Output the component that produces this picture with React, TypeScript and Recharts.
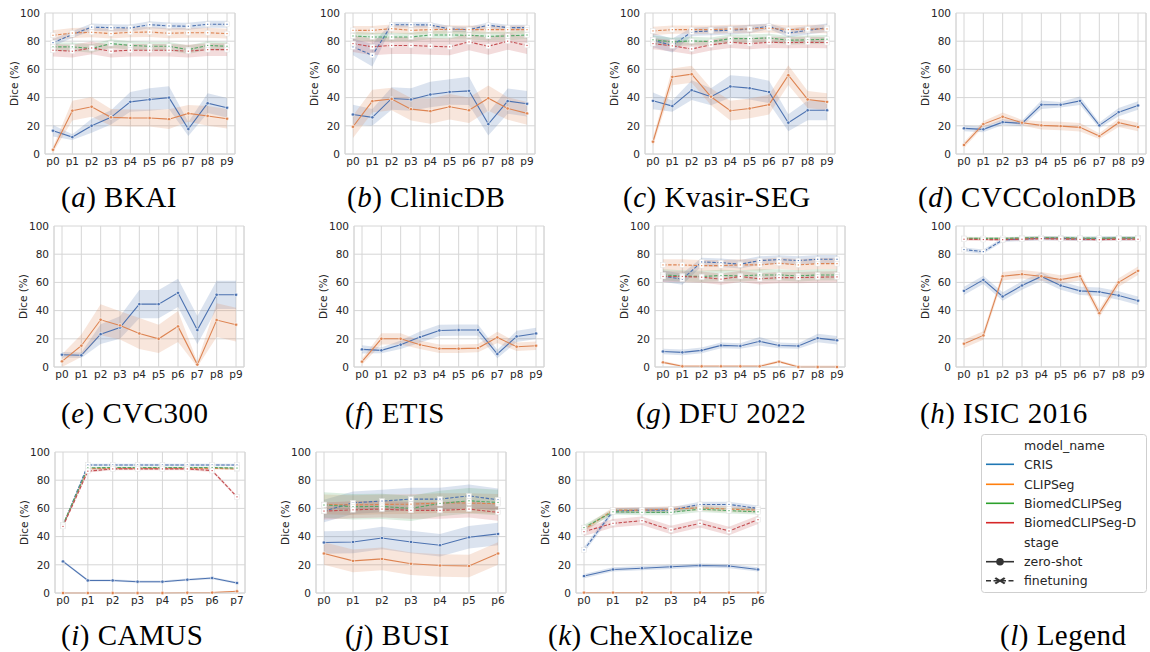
import React from 'react'
import { ComposedChart, Line, Area, XAxis, YAxis, CartesianGrid } from 'recharts'

// x categories
const P10 = ['p0', 'p1', 'p2', 'p3', 'p4', 'p5', 'p6', 'p7', 'p8', 'p9']
const P8 = ['p0', 'p1', 'p2', 'p3', 'p4', 'p5', 'p6', 'p7']
const P7 = ['p0', 'p1', 'p2', 'p3', 'p4', 'p5', 'p6']
const Y_TICKS = [0, 20, 40, 60, 80, 100]

const MODELS = ['CRIS', 'CLIPSeg', 'BiomedCLIPSeg', 'BiomedCLIPSeg-D']
const PLOT_COLORS = ['#4C72B0', '#DD8452', '#55A868', '#C44E52']
const LEGEND_COLORS = ['#1f77b4', '#ff7f0e', '#2ca02c', '#d62728']

// (a) BKAI
const BKAI_CRIS_ZS = [16.5, 12, 20, 26, 37, 38.7, 40, 17.7, 36, 32.8]
const BKAI_CRIS_ZS_CI = [4, 2, 5, 5, 7, 8, 8, 5, 7, 7]
const BKAI_CLIP_ZS = [3, 30.7, 33.5, 26, 25.5, 25.5, 24.7, 28.8, 27, 25]
const BKAI_CLIP_ZS_CI = [2, 7, 7, 6, 6, 6, 7, 6, 7, 7]
const BKAI_CRIS_FT = [79, 84.7, 90, 89.6, 89.4, 91.7, 90.8, 90.6, 92, 92]
const BKAI_CLIP_FT = [84.2, 85.8, 86.3, 85.4, 86.3, 86.5, 85.6, 86, 86, 85.4]
const BKAI_BIO_FT = [76, 76, 74.8, 78.3, 77, 76.4, 76.4, 74, 77, 76.4]
const BKAI_BIOD_FT = [73.6, 72.9, 75.2, 72.9, 73.6, 73.6, 73.6, 72.9, 74, 74]

// (b) ClinicDB
const CLIN_CRIS_ZS = [28, 26, 39.4, 38.7, 42.2, 44, 44.8, 21.2, 37.5, 35.6]
const CLIN_CRIS_ZS_CI = [7, 6, 8, 8, 9, 9, 10, 8, 9, 9]
const CLIN_CLIP_ZS = [19.3, 37.5, 39, 31.8, 30.4, 33.5, 31, 39.6, 32.3, 28.8]
const CLIN_CLIP_ZS_CI = [8, 8, 8, 8, 9, 9, 9, 9, 8, 8]
const CLIN_CRIS_FT = [76, 70, 91.7, 91.7, 91.5, 88.7, 88.2, 91.3, 89.6, 89.6]
const CLIN_CRIS_FT_CI = [6, 8, 2, 2, 2, 2, 2, 2, 2, 2]
const CLIN_CLIP_FT = [87.7, 87.7, 88.9, 87.7, 88.2, 88.4, 88.2, 88.2, 88.2, 88.2]
const CLIN_BIO_FT = [83.7, 83, 83, 83, 84.4, 84.4, 84.2, 83.5, 83.7, 84.4]
const CLIN_BIOD_FT = [78.3, 76, 77, 77, 76.4, 76, 79.5, 76.4, 80, 77]

// (c) Kvasir-SEG
const KVA_CRIS_ZS = [37.7, 34, 45.3, 40.6, 47.9, 46.7, 44, 22.2, 31, 31]
const KVA_CRIS_ZS_CI = [6, 4, 7, 6, 8, 8, 8, 6, 7, 7]
const KVA_CLIP_ZS = [8.7, 54.7, 56.6, 40.6, 30.7, 32.3, 35, 55.9, 38.7, 37]
const KVA_CLIP_ZS_CI = [3, 6, 6, 6, 7, 7, 7, 7, 6, 6]
const KVA_CRIS_FT = [80.7, 77, 86.6, 87.3, 87.7, 88.7, 90.6, 85.8, 87.7, 89.6]
const KVA_CRIS_FT_CI = [5, 5, 3, 3, 3, 3, 2, 3, 3, 3]
const KVA_CLIP_FT = [87.3, 88.2, 88.2, 88.2, 88.7, 88.7, 89.2, 88.2, 88.7, 88.7]
const KVA_BIO_FT = [81, 79.5, 80.2, 79.7, 81.8, 81.8, 82.3, 80.7, 81, 81.4]
const KVA_BIOD_FT = [78.3, 76.7, 74.5, 77.4, 79.2, 78.3, 79.2, 79, 79.2, 79]

// (d) CVCColonDB
const COL_CRIS_ZS = [18.2, 17.5, 22.6, 21.7, 34.9, 34.9, 37.7, 20.3, 29.7, 34.4]
const COL_CRIS_ZS_CI = [2, 2, 2, 2, 3, 2, 3, 2, 3, 3]
const COL_CLIP_ZS = [6.4, 21.2, 26.4, 22.2, 20.3, 19.8, 18.9, 12.7, 22.2, 19.1]
const COL_CLIP_ZS_CI = [2, 2, 3, 2, 3, 3, 3, 2, 3, 3]

// (e) CVC300
const C300_CRIS_ZS = [8.7, 8.3, 23.3, 28, 44.6, 44.6, 52.6, 26.2, 51.2, 51.2]
const C300_CRIS_ZS_CI = [2, 2, 7, 8, 10, 10, 10, 10, 10, 10]
const C300_CLIP_ZS = [4, 15.1, 33.5, 29.5, 23.8, 20, 28.8, 1.7, 33.3, 30]
const C300_CLIP_ZS_CI = [5, 8, 11, 10, 11, 10, 11, 2, 12, 12]

// (f) ETIS
const ETIS_CRIS_ZS = [12.5, 11.8, 15.8, 21.2, 25.9, 26.2, 26.2, 9.2, 21.7, 23.8]
const ETIS_CRIS_ZS_CI = [3, 2, 3, 4, 4, 4, 4, 3, 4, 4]
const ETIS_CLIP_ZS = [3.8, 20, 20, 15.8, 13, 13, 13.4, 21, 14.4, 15.1]
const ETIS_CLIP_ZS_CI = [2, 4, 4, 3, 3, 3, 3, 4, 3, 3]

// (g) DFU 2022
const DFU_CRIS_ZS = [11, 10.4, 11.8, 15.3, 14.9, 18.2, 15.3, 14.9, 20.5, 18.9]
const DFU_CRIS_ZS_CI = [2, 2, 2, 2, 2, 3, 2, 2, 3, 3]
const DFU_CLIP_ZS = [3.3, 0.5, 0.5, 0.5, 0.5, 0.5, 3.8, 0, 0, 0]
const DFU_CRIS_FT = [64.4, 62.3, 74.5, 74, 72.9, 75.5, 76.2, 75.5, 76.4, 76.4]
const DFU_CRIS_FT_CI = [4, 4, 3, 3, 3, 3, 3, 3, 3, 3]
const DFU_CLIP_FT = [72.4, 72.4, 71.9, 71.9, 72.4, 72.4, 73.6, 72.4, 73.3, 73.3]
const DFU_BIO_FT = [65.3, 64.6, 64.2, 64.9, 64.6, 65.3, 65.3, 64.6, 65.3, 65.3]
const DFU_BIOD_FT = [64.2, 64.2, 63.7, 62.3, 64.2, 62.5, 63.4, 63.4, 63.7, 63.9]

// (h) ISIC 2016
const ISIC_CRIS_ZS = [54, 61.8, 50, 57.8, 64.2, 57.8, 54, 53.3, 50.7, 47]
const ISIC_CLIP_ZS = [16.5, 22.4, 64.4, 65.8, 64.4, 62, 64.4, 38.2, 60, 68.2]
const ISIC_CRIS_FT = [83.3, 81.8, 90.1, 90.8, 91.3, 91.3, 90.8, 91.3, 91.3, 91.3]
const ISIC_CLIP_FT = [91, 91, 91, 91.2, 91.5, 91.3, 91, 91, 91.3, 91.3]
const ISIC_BIO_FT = [91.3, 91.2, 91.2, 91.5, 91.8, 91.6, 91.5, 91.3, 91.6, 91.6]
const ISIC_BIOD_FT = [90.6, 90.4, 90.3, 90.6, 91, 90.8, 90.5, 90.3, 90.6, 90.6]

// (i) CAMUS
const CAM_CRIS_ZS = [22.4, 8.9, 8.9, 8, 8, 9.4, 10.6, 7.1]
const CAM_CLIP_ZS = [0, 0, 0, 0, 0, 0.2, 0.3, 1.2]
const CAM_CRIS_FT = [47.8, 90.8, 90.8, 90.8, 90.8, 90.8, 90.8, 90.8]
const CAM_CLIP_FT = [48, 88.2, 88.4, 88.4, 88.4, 88.4, 88.4, 88]
const CAM_BIO_FT = [48.3, 88.8, 89, 89, 89, 89, 89, 88.6]
const CAM_BIOD_FT = [47.2, 86.4, 88, 88, 88, 88, 86.8, 68.2]

// (j) BUSI
const BUSI_CRIS_ZS = [35.8, 36.2, 39, 36.2, 33.9, 39.5, 41.9]
const BUSI_CLIP_ZS = [28, 22.8, 24.2, 20.7, 19.5, 19.1, 28]
const BUSI_CRIS_FT = [58.1, 64, 65.2, 66.6, 66.6, 68.9, 66.1]
const BUSI_CLIP_FT = [62.8, 62.4, 62.8, 63, 63.8, 63.8, 63.3]
const BUSI_BIO_FT = [62.4, 61.2, 61.4, 60, 63.5, 65.4, 64.2]
const BUSI_BIOD_FT = [58.1, 59, 59.5, 58.6, 58.6, 59.5, 57.2]

// (k) CheXlocalize
const CHEX_CRIS_ZS = [12, 16.7, 17.6, 18.6, 19.5, 19.1, 16.7]
const CHEX_CLIP_ZS = [0.3, 0.3, 0.3, 0.3, 0.3, 0.3, 0.3]
const CHEX_CRIS_FT = [30.6, 58.1, 58.8, 58.8, 62.8, 62.8, 60]
const CHEX_CLIP_FT = [45, 58.8, 58.8, 59.5, 60.4, 59.5, 58.8]
const CHEX_BIO_FT = [46.4, 57.6, 57.2, 57.2, 59.5, 58.4, 57.6]
const CHEX_BIOD_FT = [43.5, 49.4, 51.3, 44.7, 49.4, 44, 52]

type Series = { model: number; ft: boolean; mean: number[]; ci: number | number[] }

const zs = (model: number, mean: number[], ci: number | number[]): Series => ({ model, ft: false, mean, ci })
const ft = (model: number, mean: number[], ci: number | number[]): Series => ({ model, ft: true, mean, ci })

const PANELS = [
  { id: 'a', name: 'BKAI', x: 45, y: 13, cats: P10, cap: [61, 197], series: [
    zs(0, BKAI_CRIS_ZS, BKAI_CRIS_ZS_CI), zs(1, BKAI_CLIP_ZS, BKAI_CLIP_ZS_CI),
    ft(0, BKAI_CRIS_FT, 2.5), ft(1, BKAI_CLIP_FT, 3.5), ft(2, BKAI_BIO_FT, 3), ft(3, BKAI_BIOD_FT, 4.5)] },
  { id: 'b', name: 'ClinicDB', x: 345, y: 13, cats: P10, cap: [347, 197], series: [
    zs(0, CLIN_CRIS_ZS, CLIN_CRIS_ZS_CI), zs(1, CLIN_CLIP_ZS, CLIN_CLIP_ZS_CI),
    ft(0, CLIN_CRIS_FT, CLIN_CRIS_FT_CI), ft(1, CLIN_CLIP_FT, 3), ft(2, CLIN_BIO_FT, 3), ft(3, CLIN_BIOD_FT, 6)] },
  { id: 'c', name: 'Kvasir-SEG', x: 645, y: 13, cats: P10, cap: [623, 197], series: [
    zs(0, KVA_CRIS_ZS, KVA_CRIS_ZS_CI), zs(1, KVA_CLIP_ZS, KVA_CLIP_ZS_CI),
    ft(0, KVA_CRIS_FT, KVA_CRIS_FT_CI), ft(1, KVA_CLIP_FT, 3), ft(2, KVA_BIO_FT, 3), ft(3, KVA_BIOD_FT, 4)] },
  { id: 'd', name: 'CVCColonDB', x: 956, y: 13, cats: P10, cap: [918, 197], series: [
    zs(0, COL_CRIS_ZS, COL_CRIS_ZS_CI), zs(1, COL_CLIP_ZS, COL_CLIP_ZS_CI)] },
  { id: 'e', name: 'CVC300', x: 54, y: 226, cats: P10, cap: [61, 413], series: [
    zs(0, C300_CRIS_ZS, C300_CRIS_ZS_CI), zs(1, C300_CLIP_ZS, C300_CLIP_ZS_CI)] },
  { id: 'f', name: 'ETIS', x: 354, y: 226, cats: P10, cap: [345, 413], series: [
    zs(0, ETIS_CRIS_ZS, ETIS_CRIS_ZS_CI), zs(1, ETIS_CLIP_ZS, ETIS_CLIP_ZS_CI)] },
  { id: 'g', name: 'DFU 2022', x: 655, y: 226, cats: P10, cap: [636, 413], series: [
    zs(0, DFU_CRIS_ZS, DFU_CRIS_ZS_CI), zs(1, DFU_CLIP_ZS, 1),
    ft(0, DFU_CRIS_FT, DFU_CRIS_FT_CI), ft(1, DFU_CLIP_FT, 4), ft(2, DFU_BIO_FT, 4), ft(3, DFU_BIOD_FT, 4)] },
  { id: 'h', name: 'ISIC 2016', x: 956, y: 226, cats: P10, cap: [920, 413], series: [
    zs(0, ISIC_CRIS_ZS, 3), zs(1, ISIC_CLIP_ZS, 3),
    ft(0, ISIC_CRIS_FT, 1.5), ft(1, ISIC_CLIP_FT, 1), ft(2, ISIC_BIO_FT, 1), ft(3, ISIC_BIOD_FT, 1)] },
  { id: 'i', name: 'CAMUS', x: 55, y: 452, cats: P8, cap: [61, 635], series: [
    zs(0, CAM_CRIS_ZS, 0.8), zs(1, CAM_CLIP_ZS, 0.4),
    ft(0, CAM_CRIS_FT, 0.8), ft(1, CAM_CLIP_FT, 0.8), ft(2, CAM_BIO_FT, 0.8), ft(3, CAM_BIOD_FT, 1)] },
  { id: 'j', name: 'BUSI', x: 316, y: 452, cats: P7, cap: [345, 635], series: [
    zs(0, BUSI_CRIS_ZS, 8), zs(1, BUSI_CLIP_ZS, 8),
    ft(0, BUSI_CRIS_FT, 8), ft(1, BUSI_CLIP_FT, 7), ft(2, BUSI_BIO_FT, 9), ft(3, BUSI_BIOD_FT, 6)] },
  { id: 'k', name: 'CheXlocalize', x: 576, y: 452, cats: P7, cap: [548, 635], series: [
    zs(0, CHEX_CRIS_ZS, 1.5), zs(1, CHEX_CLIP_ZS, 0.3),
    ft(0, CHEX_CRIS_FT, 2), ft(1, CHEX_CLIP_FT, 2), ft(2, CHEX_BIO_FT, 2), ft(3, CHEX_BIOD_FT, 3)] },
]

const PW = 190
const PH = 141
const YW = 62
const TOP = 8
const XH = 22
const GRID = '#d6d6d6'
const TICK = { fontSize: 10.5, fill: '#262626' }

function buildRows(cats: string[], series: Series[]) {
  return cats.map((c, i) => {
    const row: any = { cat: c }
    series.forEach((s, k) => {
      const m = s.mean[i]
      const h = Array.isArray(s.ci) ? s.ci[i] : s.ci
      row['m' + k] = m
      row['b' + k] = [Math.max(0, m - h), Math.min(100, m + h)]
    })
    return row
  })
}

const zsDot = (color: string) => (p: any) => (
  <circle key={'d' + p.index} cx={p.cx} cy={p.cy} r={1.7} fill={color} stroke="#fff" strokeWidth={0.6} />
)
const ftDot = (color: string) => (p: any) => (
  <g key={'d' + p.index}>
    <rect x={p.cx - 2.4} y={p.cy - 2.4} width={4.8} height={4.8} fill="#fff" stroke="#e4e4e4" strokeWidth={0.5} />
    <rect x={p.cx - 0.6} y={p.cy - 0.6} width={1.2} height={1.2} fill={color} />
  </g>
)

function Panel({ panel }: { panel: any }) {
  const rows = buildRows(panel.cats, panel.series)
  return (
    <div style={{ position: 'absolute', left: panel.x - YW, top: panel.y - TOP }}>
      <ComposedChart
        width={YW + PW + 2}
        height={TOP + PH + XH}
        data={rows}
        margin={{ top: TOP, right: 1, bottom: 0, left: 0 }}
      >
        <CartesianGrid stroke={GRID} strokeWidth={1} />
        <XAxis
          dataKey="cat"
          scale="point"
          padding={{ left: 8, right: 8 }}
          interval={0}
          tickLine={false}
          tickSize={0}
          tickMargin={4}
          axisLine={{ stroke: GRID }}
          height={XH}
          tick={TICK}
        />
        <YAxis
          domain={[0, 100]}
          ticks={Y_TICKS}
          width={YW}
          tickLine={false}
          tickSize={0}
          tickMargin={5}
          axisLine={{ stroke: GRID }}
          tick={TICK}
          label={{ value: 'Dice (%)', angle: -90, position: 'center', fontSize: 10.5, fill: '#262626' }}
        />
        <YAxis yAxisId="r" orientation="right" width={1} domain={[0, 100]} tick={false} tickLine={false} axisLine={{ stroke: GRID }} />
        {panel.series.map((s: Series, k: number) => (
          <Area
            key={'b' + k}
            type="linear"
            dataKey={'b' + k}
            stroke="none"
            fill={PLOT_COLORS[s.model]}
            fillOpacity={0.2}
            dot={false}
            activeDot={false}
            isAnimationActive={false}
          />
        ))}
        {panel.series.map((s: Series, k: number) => (
          <Line
            key={'m' + k}
            type="linear"
            dataKey={'m' + k}
            stroke={PLOT_COLORS[s.model]}
            strokeWidth={1.1}
            strokeDasharray={s.ft ? '3.5 1.6' : undefined}
            dot={s.ft ? ftDot(PLOT_COLORS[s.model]) : zsDot(PLOT_COLORS[s.model])}
            activeDot={false}
            isAnimationActive={false}
          />
        ))}
      </ComposedChart>
    </div>
  )
}

function Caption({ id, name, x, y }: { id: string; name: string; x: number; y: number }) {
  return (
    <div
      style={{
        position: 'absolute', left: x, top: y - 17, lineHeight: '34px', fontSize: 29, letterSpacing: 0.5,
        fontFamily: '"Liberation Serif", serif', color: '#000', whiteSpace: 'nowrap',
      }}
    >
      (<i>{id}</i>) {name}
    </div>
  )
}

function Legend() {
  const rowY = [11.7, 30.3, 50.3, 69.3, 88.7, 108.7, 127.7, 146.7]
  const txt = { fontSize: 12.5, fill: '#262626' } as any
  return (
    <svg style={{ position: 'absolute', left: 981, top: 434 }} width={167} height={160}>
      <rect x={0.5} y={0.5} width={165} height={158} rx={3} fill="#fff" stroke="#cfcfcf" />
      <text x={43} y={rowY[0]} dy="0.35em" {...txt}>model_name</text>
      {MODELS.map((m, i) => (
        <g key={m}>
          <line x1={5} x2={33} y1={rowY[i + 1]} y2={rowY[i + 1]} stroke={LEGEND_COLORS[i]} strokeWidth={1.6} />
          <text x={43} y={rowY[i + 1]} dy="0.35em" {...txt}>{m}</text>
        </g>
      ))}
      <text x={43} y={rowY[5]} dy="0.35em" {...txt}>stage</text>
      <line x1={5} x2={33} y1={rowY[6]} y2={rowY[6]} stroke="#333" strokeWidth={1.6} />
      <circle cx={19} cy={rowY[6]} r={3.8} fill="#333" />
      <text x={43} y={rowY[6]} dy="0.35em" {...txt}>zero-shot</text>
      <line x1={5} x2={33} y1={rowY[7]} y2={rowY[7]} stroke="#333" strokeWidth={1.6} strokeDasharray="5 2.5" />
      <path
        d={`M ${15} ${rowY[7] - 3.5} L 19 ${rowY[7] - 1} L 23 ${rowY[7] - 3.5} L 24.5 ${rowY[7] - 2} L 21 ${rowY[7]} L 24.5 ${rowY[7] + 2} L 23 ${rowY[7] + 3.5} L 19 ${rowY[7] + 1} L 15 ${rowY[7] + 3.5} L 13.5 ${rowY[7] + 2} L 17 ${rowY[7]} L 13.5 ${rowY[7] - 2} Z`}
        fill="#333"
      />
      <text x={43} y={rowY[7]} dy="0.35em" {...txt}>finetuning</text>
    </svg>
  )
}

export default function App() {
  return (
    <div
      style={{
        position: 'absolute', left: 0, top: 0, width: 1150, height: 652, background: '#fff',
        overflow: 'hidden', fontFamily: '"DejaVu Sans", sans-serif',
      }}
    >
      {PANELS.map((p) => (
        <Panel key={p.id} panel={p} />
      ))}
      {PANELS.map((p) => (
        <Caption key={'c' + p.id} id={p.id} name={p.name} x={p.cap[0]} y={p.cap[1]} />
      ))}
      <Caption id="l" name="Legend" x={1000} y={635} />
      <Legend />
    </div>
  )
}
